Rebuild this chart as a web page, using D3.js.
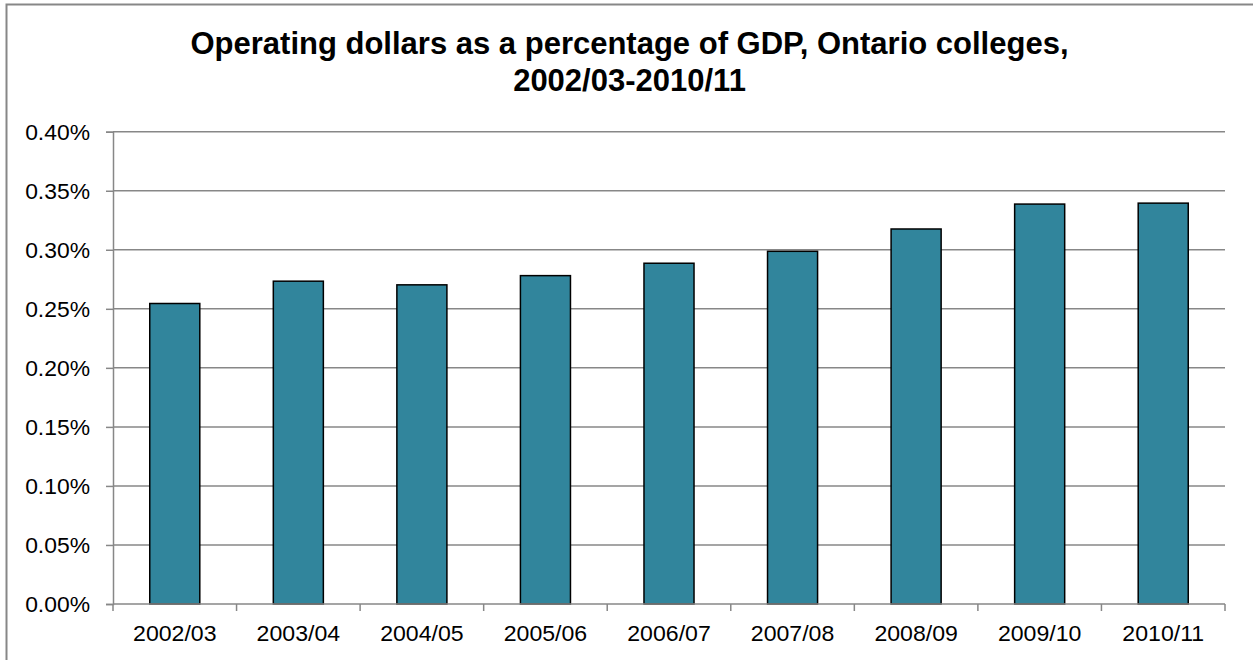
<!DOCTYPE html>
<html>
<head>
<meta charset="utf-8">
<script src="https://cdn.jsdelivr.net/npm/d3@7"></script>
<style>
  html, body { margin: 0; padding: 0; background: #fff; }
  svg { display: block; }
  text { font-family: "Liberation Sans", Arial, sans-serif; fill: #000; }
</style>
</head>
<body>
<svg id="chart" width="1253" height="660"></svg>
<script>
// Operating dollars as a percentage of GDP (in percent), by fiscal year
const years = ["2002/03", "2003/04", "2004/05", "2005/06", "2006/07", "2007/08", "2008/09", "2009/10", "2010/11"];
const pctOfGDP = [0.2545, 0.2734, 0.2703, 0.2781, 0.2886, 0.2987, 0.3176, 0.3387, 0.3395];
const yTicks = [0, 0.05, 0.10, 0.15, 0.20, 0.25, 0.30, 0.35, 0.40];
const titleLines = ["Operating dollars as a percentage of GDP, Ontario colleges,", "2002/03-2010/11"];

const svg = d3.select("#chart");
const W = 1253, H = 660;
const plot = { left: 113, right: 1225, top: 131.7, bottom: 604 };

const x = d3.scaleBand()
  .domain(years)
  .range([plot.left, plot.right])
  .paddingInner(0.595)
  .paddingOuter(0.2975);

const y = d3.scaleLinear()
  .domain([0, 0.40])
  .range([plot.bottom, plot.top]);

const grey = "#878787";

// chart frame
svg.append("rect")
  .attr("x", 6.5).attr("y", 4.5)
  .attr("width", W - 5.5).attr("height", H + 10)
  .attr("fill", "#fff").attr("stroke", grey).attr("stroke-width", 2);

// text helper: optionally widened glyphs
function wideText(parent, tx, ty, str, size, anchor, weight, sx) {
  const g = parent.append("g").attr("transform", `translate(${tx},${ty}) scale(${sx},1)`);
  g.append("text")
    .attr("text-anchor", anchor)
    .attr("font-size", size)
    .attr("font-weight", weight || "normal")
    .text(str);
  return g;
}

// title
titleLines.forEach((line, i) => {
  wideText(svg, 629.5, 54.3 + i * 37, line, 31, "middle", "bold", 1);
});

// horizontal gridlines
svg.append("g")
  .selectAll("line")
  .data(yTicks.slice(1))
  .join("line")
  .attr("x1", plot.left).attr("x2", plot.right)
  .attr("y1", d => y(d)).attr("y2", d => y(d))
  .attr("stroke", grey).attr("stroke-width", 1.5);

// y axis
const yAxis = d3.axisLeft(y).tickValues(yTicks).tickSize(7).tickFormat(() => "");
const gy = svg.append("g").attr("transform", `translate(${plot.left},0)`).call(yAxis);
gy.select(".domain").attr("stroke", grey).attr("stroke-width", 1.5);
gy.selectAll(".tick line").attr("stroke", grey).attr("stroke-width", 1.5);

yTicks.forEach(t => {
  wideText(svg, 90, y(t) + 8, t.toFixed(2) + "%", 22, "end", "normal", 1.04);
});

// bars
svg.append("g")
  .selectAll("rect")
  .data(pctOfGDP)
  .join("rect")
  .attr("x", (d, i) => x(years[i]))
  .attr("y", d => y(d))
  .attr("width", x.bandwidth())
  .attr("height", d => y(0) - y(d))
  .attr("fill", "#31859c")
  .attr("stroke", "#000")
  .attr("stroke-width", 1.5);

// x axis with boundary ticks between categories
const gx = svg.append("g").attr("transform", `translate(0,${plot.bottom})`);
gx.append("line")
  .attr("x1", plot.left).attr("x2", plot.right)
  .attr("stroke", grey).attr("stroke-width", 1.5);
const step = x.step();
const bounds = d3.range(years.length + 1).map(i => plot.left + i * step);
gx.selectAll("line.tk")
  .data(bounds)
  .join("line")
  .attr("class", "tk")
  .attr("x1", d => d).attr("x2", d => d)
  .attr("y1", 0).attr("y2", 7)
  .attr("stroke", grey).attr("stroke-width", 1.5);

years.forEach(yr => {
  wideText(svg, x(yr) + x.bandwidth() / 2, 640.5, yr, 22, "middle", "normal", 1.05);
});
</script>
</body>
</html>
